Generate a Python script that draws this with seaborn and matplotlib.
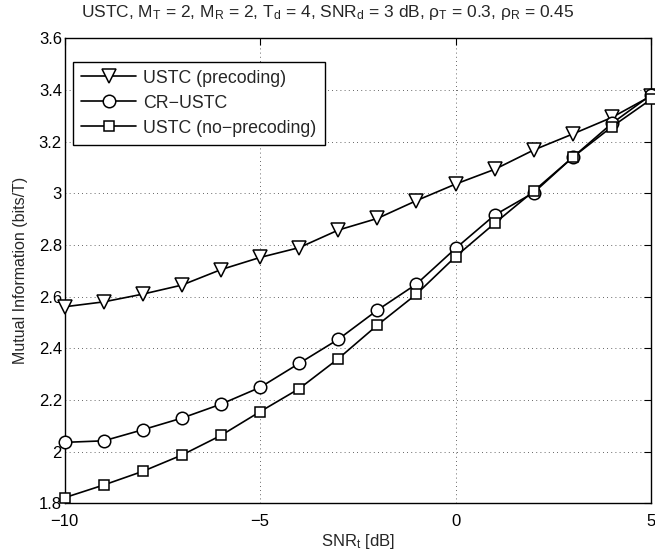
import matplotlib
matplotlib.use("Agg")
import matplotlib.pyplot as plt
import seaborn as sns
import pandas as pd

snr_t = [-10, -9, -8, -7, -6, -5, -4, -3, -2, -1, 0, 1, 2, 3, 4, 5]
mi_precoding = [2.561, 2.58, 2.61, 2.645, 2.705, 2.752, 2.79, 2.858, 2.903, 2.972,
                3.036, 3.093, 3.168, 3.23, 3.294, 3.377]
mi_cr = [2.036, 2.042, 2.085, 2.13, 2.184, 2.249, 2.342, 2.435, 2.548, 2.649,
         2.787, 2.916, 3.003, 3.14, 3.271, 3.381]
mi_noprecoding = [1.822, 1.871, 1.924, 1.987, 2.063, 2.155, 2.244, 2.36, 2.49, 2.61,
                  2.755, 2.884, 3.009, 3.14, 3.258, 3.364]
series_names = ["USTC (precoding)", "CR\u2212USTC", "USTC (no\u2212precoding)"]
x_ticks = [-10, -5, 0, 5]
y_ticks = [1.8, 2.0, 2.2, 2.4, 2.6, 2.8, 3.0, 3.2, 3.4, 3.6]
y_tick_labels = ["1.8", "2", "2.2", "2.4", "2.6", "2.8", "3", "3.2", "3.4", "3.6"]

sns.set_style("white")
plt.rcParams["font.family"] = ["Liberation Sans", "DejaVu Sans"]
plt.rcParams["mathtext.fontset"] = "custom"
plt.rcParams["mathtext.rm"] = "Liberation Sans"
plt.rcParams["mathtext.it"] = "Liberation Sans"
plt.rcParams["axes.unicode_minus"] = True

fig = plt.figure(figsize=(6.55, 5.59), dpi=100)
ax = fig.add_axes([0.0988, 0.0996, 0.8951, 0.8317])

markers = ["v", "o", "s"]
sizes = [10, 9, 7.5]
for vals, name, mk, ms in zip([mi_precoding, mi_cr, mi_noprecoding], series_names, markers, sizes):
    df = pd.DataFrame({"snr": snr_t, "mi": vals})
    sns.lineplot(data=df, x="snr", y="mi", ax=ax, color="black", linewidth=1.2,
                 marker=mk, markersize=ms, markerfacecolor="white",
                 markeredgecolor="black", markeredgewidth=1.1, label=name,
                 clip_on=False, zorder=3)

ax.set_xlim(-10, 5)
ax.set_ylim(1.8, 3.6)
ax.set_xticks(x_ticks)
ax.set_xticklabels(["\u221210", "\u22125", "0", "5"])
ax.set_yticks(y_ticks)
ax.set_yticklabels(y_tick_labels)
ax.tick_params(direction="in", length=5, width=0.8, top=True, right=True,
               labelsize=12, colors="black")
ax.tick_params(axis="x", pad=8)
ax.tick_params(axis="y", pad=2)
ax.grid(True, linestyle=(0, (1, 4)), color="black", linewidth=0.6, alpha=0.8)
for s in ax.spines.values():
    s.set_color("black")
    s.set_linewidth(1.0)

ax.set_xlabel(r"SNR$_\mathrm{t}$ [dB]", fontsize=12, labelpad=2)
ax.set_ylabel("Mutual Information (bits/T)", fontsize=11.5, labelpad=8)
fig.text(0.5, 0.977,
         r"USTC, M$_\mathrm{T}$ = 2, M$_\mathrm{R}$ = 2, T$_\mathrm{d}$ = 4, "
         r"SNR$_\mathrm{d}$ = 3 dB, $\rho_\mathrm{T}$ = 0.3, $\rho_\mathrm{R}$ = 0.45",
         fontsize=12.5, ha="center", va="center")

leg = ax.legend(loc="upper left", bbox_to_anchor=(0.0145, 0.95), fontsize=12.8,
                frameon=True, fancybox=False, framealpha=1, edgecolor="black",
                borderpad=0.45, labelspacing=0.45, handlelength=3.1, handletextpad=0.4,
                borderaxespad=0)
leg.get_frame().set_linewidth(1.0)

fig.savefig("out.png", dpi=100)
